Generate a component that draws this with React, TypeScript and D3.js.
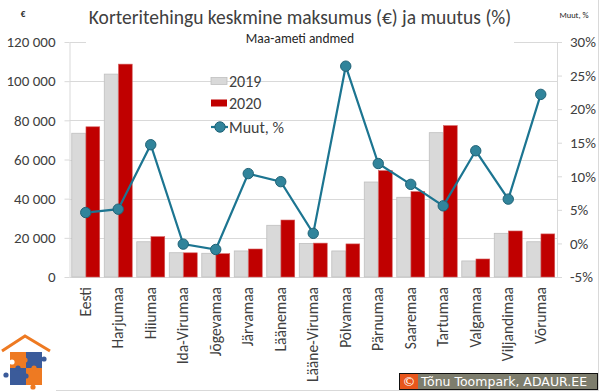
import React, { useRef, useEffect } from 'react';
import * as d3 from 'd3';

const counties = ['Eesti', 'Harjumaa', 'Hiiumaa', 'Ida-Virumaa', 'Jõgevamaa', 'Järvamaa', 'Läänemaa',
  'Lääne-Virumaa', 'Põlvamaa', 'Pärnumaa', 'Saaremaa', 'Tartumaa', 'Valgamaa', 'Viljandimaa', 'Võrumaa'];
const price2019 = [73400, 103600, 18000, 12400, 12100, 13300, 26400, 17100, 13300, 48500, 40700, 73700, 8200, 22300, 18000];
const price2020 = [76700, 108700, 20600, 12350, 11900, 14300, 29100, 17300, 16900, 54300, 43600, 77300, 9200, 23500, 22000];
const change = [4.6, 5.1, 14.7, -0.1, -0.9, 10.4, 9.2, 1.5, 26.4, 11.9, 8.8, 5.6, 13.8, 6.6, 22.2];
const leftTicks = [0, 20000, 40000, 60000, 80000, 100000, 120000];
const rightTicks = [-5, 0, 5, 10, 15, 20, 25, 30];
const seriesNames = ['2019', '2020', 'Muut, %'];

const W = 600;
const H = 392;
const FONT = 'Carlito, Lato, sans-serif';
const TXT = '#404040';

const ChangeChart = () => {
  const svgRef = useRef<SVGSVGElement>(null);

  useEffect(() => {
    document.body.style.margin = '0';
    const svg = d3.select(svgRef.current);
    svg.selectAll('*').remove();

    const left = 69.5, right = 557, top = 42, bottom = 277;

    const x = d3.scaleBand().domain(counties).range([left, right]);
    const x1 = d3.scaleBand().domain(['a', 'b']).range([0, x.bandwidth()]).paddingOuter(0.16).paddingInner(0.03);
    const yL = d3.scaleLinear().domain([0, 120000]).range([bottom, top]);
    const yR = d3.scaleLinear().domain([-5, 30]).range([bottom, top]);

    const fmt = d3.formatLocale({ decimal: ',', thousands: ' ', grouping: [3], currency: ['', '€'] }).format(',');

    svg.append('rect').attr('width', W).attr('height', H).attr('fill', '#fff');

    // gridlines
    svg.append('g').selectAll('line').data(leftTicks.slice(1))
      .enter().append('line')
      .attr('x1', left).attr('x2', right)
      .attr('y1', d => Math.round(yL(d)) + 0.5).attr('y2', d => Math.round(yL(d)) + 0.5)
      .attr('stroke', '#d9d9d9');

    // axes
    const gl = svg.append('g').attr('transform', `translate(${left},0)`)
      .call(d3.axisLeft(yL).tickValues(leftTicks).tickSize(5).tickSizeOuter(0).tickFormat(d => fmt(d as number)));
    const gr = svg.append('g').attr('transform', `translate(${right},0)`)
      .call(d3.axisRight(yR).tickValues(rightTicks).tickSize(5).tickSizeOuter(0).tickFormat(d => `${d}%`));
    [gl, gr].forEach(g => {
      g.selectAll('path, line').attr('stroke', '#d9d9d9');
      g.selectAll('text').attr('fill', TXT).style('font-family', FONT).style('font-size', '15px');
    });
    gl.selectAll('text').attr('x', -14);
    gr.selectAll('text').attr('x', 13);

    svg.append('line').attr('x1', left).attr('x2', right).attr('y1', bottom + 0.5).attr('y2', bottom + 0.5)
      .attr('stroke', '#d9d9d9');

    // bars
    const groups = svg.append('g').selectAll('g').data(counties)
      .enter().append('g')
      .attr('transform', d => `translate(${x(d)},0)`);
    groups.append('rect')
      .attr('x', x1('a')!).attr('width', x1.bandwidth())
      .attr('y', (d, i) => yL(price2019[i])).attr('height', (d, i) => bottom - yL(price2019[i]))
      .attr('fill', '#d9d9d9').attr('stroke', '#bfbfbf').attr('stroke-width', 0.8);
    groups.append('rect')
      .attr('x', x1('b')!).attr('width', x1.bandwidth())
      .attr('y', (d, i) => yL(price2020[i])).attr('height', (d, i) => bottom - yL(price2020[i]))
      .attr('fill', '#c00000').attr('stroke', '#d46060').attr('stroke-width', 0.6);

    // change line
    const cx = (i: number) => x(counties[i])! + x.bandwidth() / 2;
    const line = d3.line<number>().x((d, i) => cx(i)).y(d => yR(d));
    svg.append('path').datum(change).attr('d', line)
      .attr('fill', 'none').attr('stroke', '#1c7591').attr('stroke-width', 2.2);
    svg.append('g').selectAll('circle').data(change)
      .enter().append('circle')
      .attr('cx', (d, i) => cx(i)).attr('cy', d => yR(d)).attr('r', 5.2)
      .attr('fill', '#31849b').attr('stroke', '#1f6276').attr('stroke-width', 1);

    // category labels
    svg.append('g').selectAll('text').data(counties)
      .enter().append('text')
      .attr('transform', d => `translate(${x(d)! + x.bandwidth() / 2 + 5},287) rotate(-90)`)
      .attr('text-anchor', 'end')
      .attr('fill', TXT).style('font-family', FONT).style('font-size', '15.5px')
      .text(d => d);

    // titles
    svg.append('rect').attr('x', 86).attr('y', 31).attr('width', 428).attr('height', 18).attr('fill', '#fff');
    svg.append('text').attr('x', 300).attr('y', 24).attr('text-anchor', 'middle')
      .attr('fill', TXT).style('font-family', FONT).style('font-size', '19.5px')
      .text('Korteritehingu keskmine maksumus (€) ja muutus (%)');
    svg.append('text').attr('x', 300).attr('y', 43).attr('text-anchor', 'middle')
      .attr('fill', '#262626').style('font-family', FONT).style('font-size', '13.5px')
      .text('Maa-ameti andmed');
    svg.append('text').attr('x', 23).attr('y', 17).attr('text-anchor', 'middle')
      .attr('fill', '#262626').style('font-family', FONT).style('font-size', '9px').style('font-weight', 'bold')
      .text('€');
    svg.append('text').attr('x', 574).attr('y', 18).attr('text-anchor', 'middle')
      .attr('fill', '#262626').style('font-family', FONT).style('font-size', '8.5px')
      .text('Muut, %');

    // legend
    const lg = svg.append('g').attr('transform', 'translate(211,0)');
    const rowY = [81, 103, 127];
    lg.append('rect').attr('x', 0).attr('y', rowY[0] - 3.5).attr('width', 16).attr('height', 7)
      .attr('fill', '#d9d9d9').attr('stroke', '#bfbfbf').attr('stroke-width', 0.8);
    lg.append('rect').attr('x', 0).attr('y', rowY[1] - 3.5).attr('width', 16).attr('height', 7)
      .attr('fill', '#c00000');
    lg.append('line').attr('x1', 0).attr('x2', 17).attr('y1', rowY[2]).attr('y2', rowY[2])
      .attr('stroke', '#1c7591').attr('stroke-width', 2.2);
    lg.append('circle').attr('cx', 9).attr('cy', rowY[2]).attr('r', 5.2)
      .attr('fill', '#31849b').attr('stroke', '#1f6276');
    lg.selectAll('text.leg').data(seriesNames).enter().append('text')
      .attr('x', 18).attr('y', (d, i) => rowY[i] + 5.5)
      .attr('fill', TXT).style('font-family', FONT).style('font-size', '16px')
      .text(d => d);

    // frame
    svg.append('path').attr('d', `M${W - 1.5},0V${H - 1.5}H0`).attr('fill', 'none').attr('stroke', '#d9d9d9');

    // logo
    const logo = svg.append('g');
    logo.append('rect').attr('x', 0).attr('y', 333).attr('width', 56).attr('height', 58).attr('fill', '#fff');
    logo.append('path').attr('d', 'M2,351 L25,336 L50,351').attr('fill', 'none')
      .attr('stroke', '#ee7a22').attr('stroke-width', 3);
    const orange = '#ee7a22', blue = '#3b5b9a';
    logo.append('rect').attr('x', 10).attr('y', 352).attr('width', 16).attr('height', 16).attr('fill', orange);
    logo.append('rect').attr('x', 26).attr('y', 352).attr('width', 16).attr('height', 16).attr('fill', blue);
    logo.append('rect').attr('x', 10).attr('y', 368).attr('width', 16).attr('height', 17).attr('fill', blue);
    logo.append('rect').attr('x', 26).attr('y', 368).attr('width', 16).attr('height', 17).attr('fill', orange);
    const knobs: [number, number, string][] = [[44, 359, blue], [6, 375, blue], [33, 387, orange], [25, 360, orange],
      [18, 368, blue], [34, 368, orange], [12, 362, '#fff'], [26, 376, blue]];
    logo.selectAll('circle').data(knobs).enter().append('circle')
      .attr('cx', d => d[0]).attr('cy', d => d[1]).attr('r', 2.6).attr('fill', d => d[2]);

    // credit
    const cr = svg.append('g');
    cr.append('rect').attr('x', 399.5).attr('y', 373.5).attr('width', 198).attr('height', 16)
      .attr('fill', '#7d7d6d').attr('stroke', '#111');
    cr.append('rect').attr('x', 400).attr('y', 374).attr('width', 18).attr('height', 15).attr('fill', '#e8561c');
    cr.append('text').attr('x', 409).attr('y', 386).attr('text-anchor', 'middle').attr('fill', '#fff')
      .style('font-family', 'DejaVu Sans, sans-serif').style('font-size', '13px').text('©');
    cr.append('text').attr('x', 421).attr('y', 386).attr('fill', '#fff')
      .style('font-family', 'DejaVu Sans, sans-serif').style('font-size', '12.5px').text('Tõnu Toompark, ADAUR.EE');
  }, []);

  return <svg ref={svgRef} width={W} height={H} style={{ display: 'block' }} />;
};

export default function App() {
  return <ChangeChart />;
}
